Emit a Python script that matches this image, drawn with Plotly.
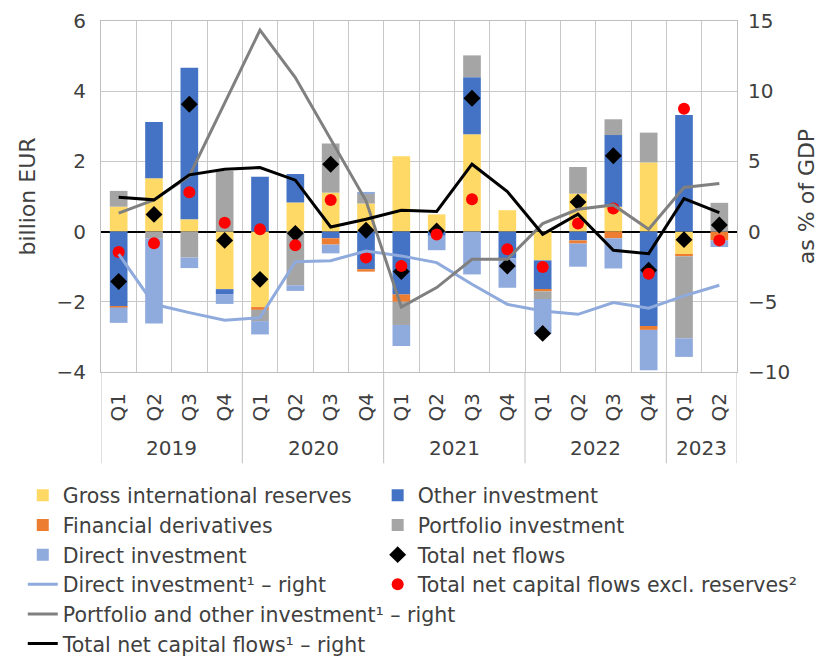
import plotly.graph_objects as go

years = ["2019", "2019", "2019", "2019", "2020", "2020", "2020", "2020",
         "2021", "2021", "2021", "2021", "2022", "2022", "2022", "2022",
         "2023", "2023"]
quarters = ["Q1", "Q2", "Q3", "Q4", "Q1", "Q2", "Q3", "Q4",
            "Q1", "Q2", "Q3", "Q4", "Q1", "Q2", "Q3", "Q4",
            "Q1", "Q2"]

# billion EUR (left axis)
reserves = [0.71, 1.52, 0.35, -1.64, -2.15, 0.83, 1.11, 0.80, 2.15, 0.49,
            2.77, 0.61, -0.82, 1.08, 0.71, 1.97, -0.66, 0.00]
other_inv = [-2.12, 1.60, 4.32, -0.14, 1.56, 0.81, -0.19, -1.07, -1.79, -0.12,
             1.63, -0.76, -0.83, -0.25, 2.04, -2.69, 3.32, 0.00]
derivatives = [-0.04, 0.00, 0.00, 0.00, -0.08, 0.00, -0.18, -0.07, -0.21, 0.00,
               0.00, 0.00, -0.05, -0.09, -0.19, -0.11, -0.04, -0.25]
portfolio = [0.45, -0.20, -0.74, 1.73, -0.32, -1.53, 1.40, 0.28, -0.66, 0.00,
             0.62, 0.00, -0.22, 0.76, 0.45, 0.85, -2.34, 0.82]
direct = [-0.44, -2.42, -0.30, -0.28, -0.38, -0.16, -0.25, 0.05, -0.60, -0.41,
          -1.22, -0.84, -0.99, -0.66, -0.86, -1.15, -0.53, -0.19]
total_flows = [-1.42, 0.49, 3.63, -0.25, -1.36, -0.05, 1.92, 0.04, -1.14, 0.02,
               3.80, -0.98, -2.90, 0.84, 2.16, -1.10, -0.23, 0.19]
excl_reserves = [-0.58, -0.33, 1.12, 0.25, 0.07, -0.39, 0.90, -0.74, -0.98, -0.08,
                 0.92, -0.50, -1.01, 0.23, 0.66, -1.20, 3.50, -0.25]

# % of GDP (right axis)
di_line = [-1.60, -5.18, -5.77, -6.32, -6.13, -2.14, -2.07, -1.38, -1.73, -2.21,
           -3.75, -5.18, -5.65, -5.89, -5.06, -5.46, -4.58, -3.82]
po_line = [1.31, 2.26, 3.97, 9.20, 14.35, 10.97, 6.60, 2.19, -5.37, -3.99,
           -1.97, -1.97, 0.57, 1.59, 1.90, 0.17, 3.14, 3.42]
total_line = [2.45, 2.26, 4.04, 4.44, 4.56, 3.66, 0.33, 0.88, 1.52, 1.43,
              4.80, 2.85, -0.19, 1.24, -1.33, -1.57, 2.35, 1.35]

x = list(range(len(quarters)))

fig = go.Figure()

bars = [
    ("Gross international reserves", reserves, "#FFD966", "legend"),
    ("Other investment", other_inv, "#4472C4", "legend2"),
    ("Financial derivatives", derivatives, "#ED7D31", "legend"),
    ("Portfolio investment", portfolio, "#A5A5A5", "legend2"),
    ("Direct investment", direct, "#8FAADC", "legend"),
]
for name, vals, col, leg in bars:
    fig.add_trace(go.Bar(x=x, y=vals, name=name, marker_color=col,
                         marker_line_width=0, legend=leg))

lines = [
    ("Direct investment¹ – right", di_line, "#8FAADC"),
    ("Portfolio and other investment¹ – right", po_line, "#808080"),
    ("Total net capital flows¹ – right", total_line, "#000000"),
]
for name, vals, col in lines:
    fig.add_trace(go.Scatter(x=x, y=vals, name=name, mode="lines",
                             line=dict(color=col, width=3), yaxis="y2",
                             legend="legend"))

fig.add_trace(go.Scatter(x=x, y=total_flows, name="Total net flows", mode="markers",
                         marker=dict(symbol="diamond", size=13, color="black"),
                         legend="legend2"))
fig.add_trace(go.Scatter(x=x, y=excl_reserves, name="Total net capital flows excl. reserves²",
                         mode="markers", marker=dict(size=12, color="#FF0000"),
                         legend="legend2"))

# year labels and dividers under the quarter labels
line_col = "#bfbfbf"
year_list = list(dict.fromkeys(years))
bounds = [-0.5]
for yr in year_list:
    idx = [i for i, v in enumerate(years) if v == yr]
    fig.add_annotation(x=sum(idx) / len(idx), y=0, xref="x", yref="paper",
                       text=yr, showarrow=False, yshift=-76, yanchor="middle",
                       font=dict(size=20, color="#404040"))
    bounds.append(idx[-1] + 0.5)
for b in bounds:
    fig.add_shape(type="line", xref="x", yref="paper", x0=b, x1=b, y0=0, y1=-0.26,
                  line=dict(color=line_col, width=1))

grid = "#c8c8c8"
fig.update_layout(
    width=840, height=660,
    margin=dict(l=93, r=111, t=13, b=296, autoexpand=False),
    plot_bgcolor="white", paper_bgcolor="white",
    barmode="relative", bargap=0.5,
    font=dict(family="DejaVu Sans", size=20, color="#404040"),
    showlegend=True,
    xaxis=dict(range=[-0.5, len(quarters) - 0.5], tickvals=x, ticktext=quarters,
               tickangle=-90, showgrid=False, zeroline=False,
               showline=True, linecolor=line_col, mirror=True, ticks="",
               ticklabelstandoff=12,
               minor=dict(tick0=-0.5, dtick=1, showgrid=True, gridcolor=grid)),
    yaxis=dict(range=[-4, 6], dtick=2, gridcolor=grid, showline=True,
               linecolor=line_col, zeroline=True, zerolinecolor="black",
               zerolinewidth=2, ticks="", ticklabelstandoff=10,
               title=dict(text="billion EUR", font=dict(size=22), standoff=14)),
    yaxis2=dict(range=[-10, 15], dtick=5, overlaying="y", side="right",
                showgrid=False, zeroline=False, showline=True, linecolor=line_col,
                ticks="", ticklabelstandoff=6,
                title=dict(text="as % of GDP", font=dict(size=22), standoff=9)),
    legend=dict(x=-0.123, y=-0.295, xanchor="left", yanchor="top",
                font=dict(size=20.5), bgcolor="rgba(0,0,0,0)", traceorder="normal"),
    legend2=dict(x=0.435, y=-0.295, xanchor="left", yanchor="top",
                 font=dict(size=20.5), bgcolor="rgba(0,0,0,0)", traceorder="normal"),
)

fig.write_html("out.html")
